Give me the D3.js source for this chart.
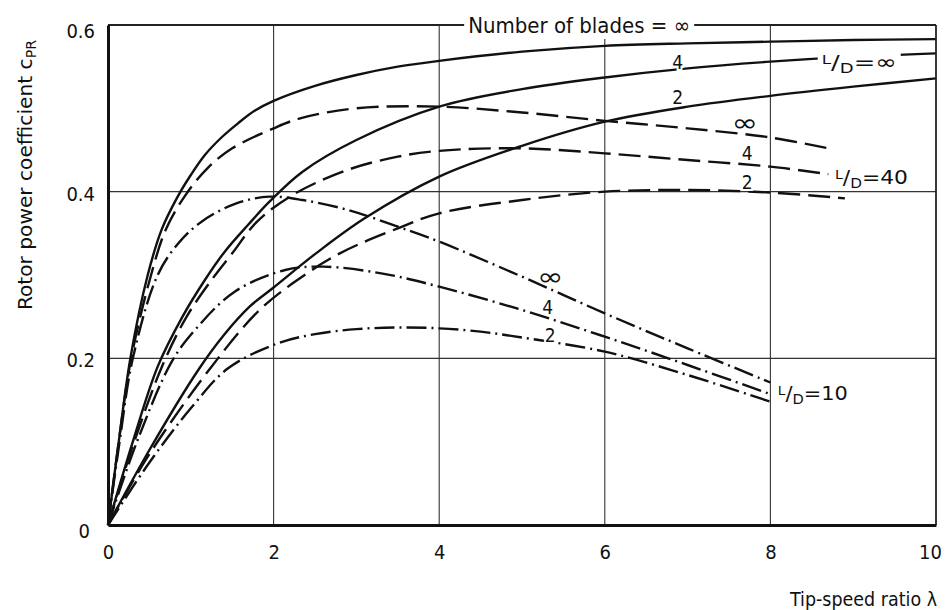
<!DOCTYPE html>
<html>
<head>
<meta charset="utf-8">
<script src="https://cdn.jsdelivr.net/npm/d3@7"></script>
<style>
  html, body { margin: 0; padding: 0; background: #fff; }
  svg { display: block; }
  text { font-family: "DejaVu Sans Condensed", "Liberation Sans Narrow", "DejaVu Sans", sans-serif; fill: #111; }
</style>
</head>
<body>
<svg id="chart" width="946" height="610"></svg>
<script>
// Rotor power coefficient c_PR versus tip-speed ratio λ
// for 2, 4 and infinitely many blades and lift/drag ratios ∞, 40 and 10.

const xTicks = [0, 2, 4, 6, 8, 10];
const yTicks = [0, 0.2, 0.4, 0.6];
const yTickLabels = ["0", "0.2", "0.4", "0.6"];

// L/D = ∞ (solid)
const ldInfBladesInf = [[0,0],[0.13,0.1],[0.27,0.2],[0.48,0.3],[0.65,0.355],[0.83,0.392],[1.0,0.42],[1.17,0.444],[1.37,0.465],[1.57,0.482],[1.77,0.497],[2,0.509],[2.5,0.527],[3,0.54],[3.5,0.55],[4,0.557],[5,0.568],[6,0.575],[7,0.578],[8,0.58],[9,0.582],[10,0.583]];
const ldInfBlades4 = [[0,0],[0.3,0.1],[0.6,0.19],[0.9,0.25],[1.17,0.294],[1.41,0.328],[1.69,0.36],[1.95,0.388],[2.35,0.424],[3,0.462],[4,0.502],[5,0.523],[6,0.537],[7,0.548],[8,0.556],[9,0.562],[10,0.566]];
const ldInfBlades2 = [[0,0],[0.5,0.09],[1.09,0.186],[1.4,0.228],[1.71,0.262],[2,0.285],[2.5,0.325],[3.1,0.368],[4,0.418],[5,0.455],[6,0.484],[7,0.502],[8,0.515],[9,0.526],[10,0.536]];

// L/D = 40 (dashed)
const ld40BladesInf = [[0,0],[0.13,0.1],[0.28,0.2],[0.52,0.3],[0.7,0.355],[0.93,0.395],[1.2,0.428],[1.5,0.452],[2,0.476],[2.32,0.488],[3,0.5],[4,0.502],[5,0.495],[6,0.485],[7,0.476],[8,0.465],[8.75,0.451]];
const ld40Blades4 = [[0,0],[0.3,0.095],[0.66,0.192],[0.95,0.25],[1.25,0.294],[1.5,0.326],[1.8,0.364],[2.23,0.396],[2.89,0.426],[3.5,0.442],[4,0.449],[5,0.452],[6,0.446],[7,0.438],[8,0.43],[8.7,0.421]];
const ld40Blades2 = [[0,0],[0.5,0.085],[1.25,0.19],[1.8,0.255],[2.23,0.29],[2.8,0.326],[3.5,0.356],[4,0.374],[5,0.39],[6,0.4],[7,0.402],[8,0.399],[8.9,0.392]];

// L/D = 10 (dash-dot)
const ld10BladesInf = [[0,0],[0.14,0.1],[0.3,0.2],[0.6,0.3],[0.85,0.338],[1.13,0.364],[1.55,0.386],[1.95,0.394],[2.35,0.39],[2.9,0.378],[3.5,0.358],[4,0.34],[5,0.298],[6,0.254],[7,0.212],[8,0.171]];
const ld10Blades4 = [[0,0],[0.35,0.1],[0.77,0.196],[1.05,0.234],[1.53,0.28],[2.14,0.306],[2.6,0.31],[3.3,0.302],[4,0.286],[5,0.258],[6,0.226],[7,0.192],[8,0.157]];
const ld10Blades2 = [[0,0],[0.5,0.075],[1.0,0.14],[1.45,0.188],[2.05,0.218],[2.5,0.229],[3,0.235],[3.5,0.237],[4,0.236],[4.5,0.232],[5,0.225],[6,0.208],[7,0.18],[8,0.148]];

const series = [
  { data: ldInfBladesInf, dash: null },
  { data: ldInfBlades4,   dash: null },
  { data: ldInfBlades2,   dash: null },
  { data: ld40BladesInf,  dash: "22,8" },
  { data: ld40Blades4,    dash: "22,8" },
  { data: ld40Blades2,    dash: "22,8" },
  { data: ld10BladesInf,  dash: "20,5,2,5" },
  { data: ld10Blades4,    dash: "20,5,2,5" },
  { data: ld10Blades2,    dash: "20,5,2,5" }
];

const svg = d3.select("#chart");
const x = d3.scaleLinear().domain([0, 10]).range([108, 936]);
const y = d3.scaleLinear().domain([0, 0.6]).range([525, 25]);

// grid
const grid = svg.append("g").attr("stroke", "#333").attr("stroke-width", 1.1);
grid.selectAll("line.v").data(xTicks.filter(d => d > 0 && d < 10)).join("line")
  .attr("x1", d => x(d)).attr("x2", d => x(d))
  .attr("y1", y(0.6)).attr("y2", y(0));
grid.selectAll("line.h").data(yTicks.filter(d => d > 0 && d < 0.6)).join("line")
  .attr("x1", x(0)).attr("x2", x(10))
  .attr("y1", d => y(d)).attr("y2", d => y(d));

// curves
const line = d3.line().x(d => x(d[0])).y(d => y(d[1])).curve(d3.curveCatmullRom.alpha(0.5));
svg.append("g").selectAll("path").data(series).join("path")
  .attr("d", d => line(d.data))
  .attr("fill", "none").attr("stroke", "#111").attr("stroke-width", 2.4)
  .attr("stroke-linecap", "butt")
  .attr("stroke-dasharray", d => d.dash);

// frame
svg.append("line").attr("x1", x(0)).attr("x2", x(10)).attr("y1", y(0.6)).attr("y2", y(0.6)).attr("stroke", "#222").attr("stroke-width", 1.8);
svg.append("line").attr("x1", x(10)).attr("x2", x(10)).attr("y1", y(0.6)).attr("y2", y(0)).attr("stroke", "#222").attr("stroke-width", 1.8);

// axes
const xAxis = svg.append("g").attr("transform", `translate(0,${y(0)})`)
  .call(d3.axisBottom(x).tickValues(xTicks).tickSize(0).tickPadding(20).tickFormat(d3.format("d")));
const yAxis = svg.append("g").attr("transform", `translate(${x(0)},0)`)
  .call(d3.axisLeft(y).tickValues(yTicks).tickSize(0).tickPadding(13).tickFormat((d, i) => yTickLabels[i]));
[xAxis, yAxis].forEach(a => {
  a.select(".domain").attr("stroke", "#111").attr("stroke-width", 3);
  a.selectAll("text").attr("font-size", 20).attr("fill", "#111")
    .style("font-family", '"DejaVu Sans Condensed", "Liberation Sans Narrow", sans-serif');
});
xAxis.selectAll(".tick").filter(d => d === 10).select("text").attr("dx", -6);
yAxis.selectAll(".tick text").attr("dy", d => (d === 0.6 || d === 0) ? "0.62em" : "0.42em");
yAxis.selectAll(".tick").filter(d => d === 0).select("text").attr("x", -18);

// axis titles
svg.append("text")
  .attr("transform", `translate(32,175) rotate(-90)`)
  .attr("text-anchor", "middle").attr("font-size", 20)
  .attr("textLength", 270).attr("lengthAdjust", "spacingAndGlyphs")
  .call(t => {
    t.append("tspan").text("Rotor power coefficient c");
    t.append("tspan").attr("font-size", 14).attr("dy", 4).text("PR");
  });

svg.append("text")
  .attr("x", 790).attr("y", 606).attr("font-size", 20)
  .attr("textLength", 147).attr("lengthAdjust", "spacingAndGlyphs")
  .text("Tip-speed ratio λ");

// annotations
const notes = svg.append("g");

function masked(sel) {
  const b = sel.node().getBBox();
  notes.insert("rect", () => sel.node())
    .attr("x", b.x - 4).attr("y", b.y - 1).attr("width", b.width + 8).attr("height", b.height + 2)
    .attr("fill", "#fff");
  return sel;
}

function ldLabel(lam, cp, value, len) {
  const t = notes.append("text")
    .attr("x", x(lam)).attr("y", y(cp) + 7).attr("font-size", 20)
    .attr("textLength", len).attr("lengthAdjust", "spacingAndGlyphs");
  t.append("tspan").attr("font-size", 13).attr("dy", -5).text("L");
  t.append("tspan").attr("dy", 5).text("/");
  t.append("tspan").attr("font-size", 14).attr("dy", 4).text("D");
  t.append("tspan").attr("dy", -4).text("=" + value);
  return t;
}

// top label breaks the frame
masked(notes.append("text")
  .attr("x", x(4.35)).attr("y", y(0.6) + 8).attr("font-size", 22)
  .attr("textLength", 222).attr("lengthAdjust", "spacingAndGlyphs")
  .text("Number of blades = ∞"));

masked(ldLabel(8.62, 0.556, "∞", 75));
ldLabel(8.78, 0.418, "40", 73);
ldLabel(8.09, 0.158, "10", 70);

const bladeNotes = [
  { lam: 6.88, cp: 0.556, t: "4" },
  { lam: 6.88, cp: 0.514, t: "2" },
  { lam: 7.69, cp: 0.482, t: "∞" },
  { lam: 7.72, cp: 0.446, t: "4" },
  { lam: 7.72, cp: 0.412, t: "2" },
  { lam: 5.34, cp: 0.298, t: "∞" },
  { lam: 5.31, cp: 0.262, t: "4" },
  { lam: 5.34, cp: 0.228, t: "2" }
];
notes.selectAll("text.bn").data(bladeNotes).join("text")
  .attr("class", "bn")
  .attr("x", d => x(d.lam)).attr("y", d => y(d.cp))
  .attr("text-anchor", "middle").attr("dominant-baseline", "central")
  .attr("font-size", d => d.t === "∞" ? 24 : 19)
  .attr("textLength", d => d.t === "∞" ? 26 : null)
  .attr("lengthAdjust", "spacingAndGlyphs")
  .attr("stroke", "#fff").attr("stroke-width", 4).attr("paint-order", "stroke")
  .text(d => d.t);
</script>
</body>
</html>
